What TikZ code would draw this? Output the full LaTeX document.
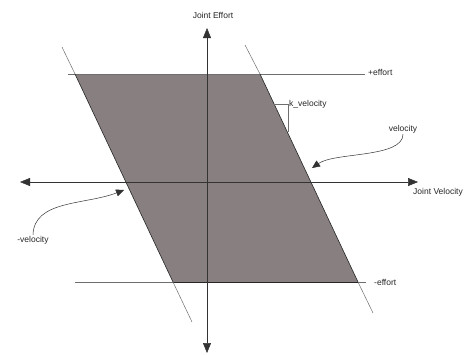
\documentclass[tikz,border=0pt]{standalone}
\usepackage{fontspec}
\setmainfont{Liberation Sans}
\usetikzlibrary{arrows.meta}
\definecolor{regionfill}{RGB}{135,127,128}
\definecolor{thinline}{RGB}{110,110,110}
\tikzset{
  axis/.style={draw=black!80, line width=0.5pt, -{Triangle[length=10pt,width=8pt]}},
  limitline/.style={draw=thinline, line width=0.5pt},
  edgeline/.style={draw=black!85, line width=0.6pt},
  lbl/.style={font=\fontsize{8.5}{10}\selectfont, inner sep=1pt, text=black!85},
  pointer/.style={draw=black!80, line width=0.5pt, -{Triangle[length=8pt,width=7pt]}}
}
\begin{document}
\begin{tikzpicture}[x=1pt,y=-1pt]
\useasboundingbox (0,0) rectangle (468,354);
% corners of region
\coordinate (tl) at (75,74);
\coordinate (tr) at (260,74);
\coordinate (br) at (358,282);
\coordinate (bl) at (173,282);
% region
\fill[regionfill] (tl) -- (tr) -- (br) -- (bl) -- cycle;
% effort limit lines
\coordinate (pe0) at (68,74);
\coordinate (pe1) at (365,74);
\coordinate (me0) at (75,282);
\coordinate (me1) at (366,282);
\draw[limitline] (pe0) -- (pe1);
\draw[limitline] (me0) -- (me1);
\draw[edgeline] (bl) -- (br);
% velocity lines
\coordinate (lt) at (62,47);
\coordinate (lb) at (192,322);
\coordinate (rt) at (245,45);
\coordinate (rb) at (373,313);
\draw[edgeline] (tl) -- (bl);
\draw[limitline] (lt) -- (tl);
\draw[limitline] (bl) -- (lb);
\draw[edgeline] (tr) -- (br);
\draw[limitline] (rt) -- (tr);
\draw[limitline] (br) -- (rb);
% axes
\coordinate (o) at (207,182);
\coordinate (yt) at (207,28);
\coordinate (yb) at (207,353);
\coordinate (xl) at (20,182);
\coordinate (xr) at (418,182);
\draw[axis] (o) -- (yt);
\draw[axis] (o) -- (yb);
\draw[axis] (o) -- (xl);
\draw[axis] (o) -- (xr);
% k_velocity bracket
\coordinate (k0) at (274,104);
\coordinate (k1) at (288,104);
\coordinate (k2) at (288,132);
\draw[limitline] (k0) -- (k1) -- (k2);
% labels
\node[lbl, anchor=south] (je) at (213,20) {Joint Effort};
\node[lbl, anchor=north] (jv) at (438,187) {Joint Velocity};
\node[lbl, anchor=west] (pe) at (367,72) {+effort};
\node[lbl, anchor=west] (me) at (373,282) {-effort};
\node[lbl, anchor=west] (kv) at (288,104) {k\_velocity};
\node[lbl] (v) at (403,129) {velocity};
\node[lbl] (mv) at (33,240) {-velocity};
% pointers
\coordinate (vp) at (312,168);
\coordinate (mvp) at (124,190);
\draw[pointer] (v.south) .. controls (403,158) and (335,152) .. (vp);
\draw[pointer] (mv.north) .. controls (34,200) and (85,205) .. (mvp);
\end{tikzpicture}
\end{document}
